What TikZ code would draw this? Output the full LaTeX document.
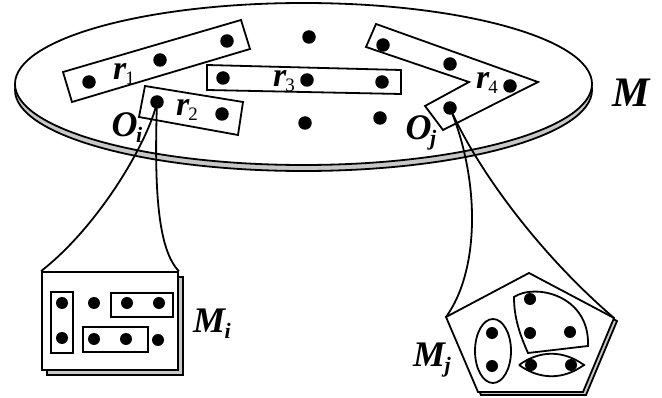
\documentclass[tikz,border=0pt]{standalone}
\usepackage{fontspec}
\setmainfont{Liberation Serif}
\tikzset{
  dot/.style={circle, fill=black, inner sep=0pt, minimum size=13.5pt},
  sdot/.style={circle, fill=black, inner sep=0pt, minimum size=12pt},
  lw/.style={line width=1.8pt},
  lbl/.style={inner sep=0pt, anchor=center},
  sidegray/.style={fill=black!22},
}
\newcommand{\mylab}[4]{\fontsize{#1}{#1}\selectfont\textbf{\textit{#2}}\kern-0.04em\raisebox{-0.17em}{\fontsize{#3}{#3}\selectfont #4}}
\begin{document}
\begin{tikzpicture}[x=1pt,y=-1pt]
\useasboundingbox (0,0) rectangle (662,398);
% disc M
\draw[lw, sidegray] (303.5,90) ellipse [x radius=288.5, y radius=81];
\draw[lw, fill=white] (303.5,84) ellipse [x radius=288.5, y radius=81];
% groups
\draw[lw] (63,72) -- (72,102) -- (250,49) -- (241,20) -- cycle;
\draw[lw] (145,86) -- (139,117) -- (238,135) -- (243,102) -- cycle;
\draw[lw] (207,65) -- (207,90) -- (401,94) -- (401,70) -- cycle;
\draw[lw] (366,47) -- (376,24) -- (538,82) -- (443,130) -- (425,106) -- (469,82) -- cycle;
% dots in M
\node[dot] (a1) at (89,82) {};
\node[dot] (a2) at (160,60) {};
\node[dot] (a3) at (227,41) {};
\node[dot] (oi) at (157,102) {};
\node[dot] (b2) at (222,114) {};
\node[dot] (c1) at (223,78) {};
\node[dot] (c2) at (307,80) {};
\node[dot] (c3) at (382,82) {};
\node[dot] (f1) at (309,37) {};
\node[dot] (f2) at (305,123) {};
\node[dot] (f3) at (380,118) {};
\node[dot] (d1) at (383,45) {};
\node[dot] (d2) at (450,64) {};
\node[dot] (d3) at (510,86) {};
\node[dot] (oj) at (450,108) {};
% labels in M
\node[lbl] (lr1) at (124,74) {\mylab{34}{r}{19}{1}};
\node[lbl] (lr2) at (187,110) {\mylab{34}{r}{19}{2}};
\node[lbl] (lr3) at (284,81) {\mylab{34}{r}{19}{3}};
\node[lbl] (lr4) at (487,83) {\mylab{34}{r}{19}{4}};
\node[lbl] (loi) at (127,128) {\mylab{36}{O}{22}{\textbf{\textit{i}}}};
\node[lbl] (loj) at (421,133) {\mylab{36}{O}{22}{\textbf{\textit{j}}}};
\node[lbl] (lm) at (632,93) {\fontsize{42}{42}\selectfont\textbf{\textit{M}}};
% box Mi
\draw[lw, fill=black!22] (47,277) rectangle (183,375);
\node[draw, lw, fill=white, minimum width=136pt, minimum height=98pt, inner sep=0pt] (mi) at (110,321) {};
\draw[lw] (51,292) rectangle (73,353);
\draw[lw] (111,293) rectangle (173,317);
\draw[lw] (83,327) rectangle (148,352);
\node[sdot] (m1) at (62,303) {};
\node[sdot] (m2) at (62,338) {};
\node[sdot] (m3) at (94,303) {};
\node[sdot] (m4) at (127,303) {};
\node[sdot] (m5) at (159,303) {};
\node[sdot] (m6) at (94,339) {};
\node[sdot] (m7) at (126,339) {};
\node[sdot] (m8) at (158,340) {};
\node[lbl] (lmi) at (212,324) {\mylab{36}{M}{22}{\textbf{\textit{i}}}};
% pentagon Mj
\coordinate (pa) at (529,273);
\coordinate (pb) at (446,317);
\coordinate (pc) at (478,392);
\coordinate (pd) at (583,392);
\coordinate (pe) at (614,318);
\draw[lw, fill=black!22] ([shift={(3,3)}]pa) -- ([shift={(3,3)}]pb) -- ([shift={(3,3)}]pc) -- ([shift={(3,3)}]pd) -- ([shift={(3,3)}]pe) -- cycle;
\draw[lw, fill=white] (pa) -- (pb) -- (pc) -- (pd) -- (pe) -- cycle;
\draw[lw] (493,351) ellipse [x radius=18, y radius=32];
\draw[lw] (514,297) .. controls (535,283) and (590,295) .. (588,346) -- (528,353) .. controls (520,335) and (514,318) .. cycle;
\draw[lw] (519,365) .. controls (540,350) and (563,350) .. (584,365) .. controls (563,380) and (540,380) .. (519,365);
\node[sdot] (n1) at (492,333) {};
\node[sdot] (n2) at (492,366) {};
\node[sdot] (n3) at (530,299) {};
\node[sdot] (n4) at (530,333) {};
\node[sdot] (n5) at (570,332) {};
\node[sdot] (n6) at (531,365) {};
\node[sdot] (n7) at (571,365) {};
\node[lbl] (lmj) at (432,360) {\mylab{36}{M}{22}{\textbf{\textit{j}}}};
% connectors
\draw[lw] (oi.center) .. controls (149,140) and (100,225) .. (mi.north west);
\draw[lw] (oi.center) .. controls (154,190) and (158,250) .. (mi.north east);
\draw[lw] (oj.center) .. controls (480,180) and (480,270) .. (pb);
\draw[lw] (oj.center) .. controls (475,165) and (535,250) .. (pe);
\end{tikzpicture}
\end{document}
